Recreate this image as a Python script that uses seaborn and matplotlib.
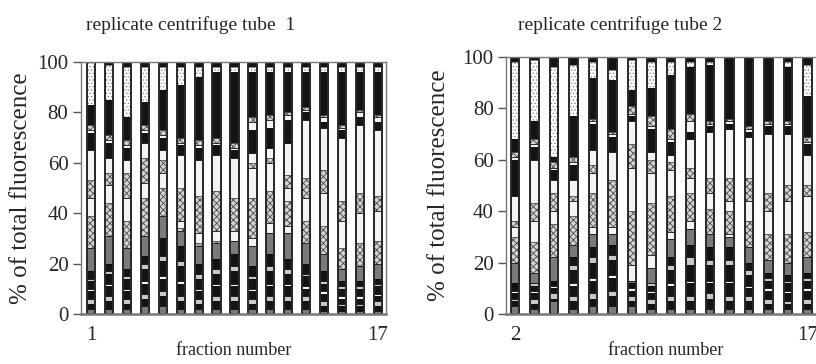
import numpy as np
import matplotlib
matplotlib.use("Agg")
import matplotlib.pyplot as plt
import seaborn as sns

sns.set_style("ticks")
plt.rcParams['font.family'] = ['Liberation Serif', 'DejaVu Serif']
plt.rcParams['hatch.linewidth'] = 0.6

# ---- data: % of total fluorescence per band, stacked bottom -> top ----
tube1_fractions = [str(i) for i in range(1, 18)]
tube2_fractions = [str(i) for i in range(2, 18)]

# style of each stacked layer (bottom -> top)
layer_styles = ['g', 'k', 'lg', 'k', 'w', 'k', 'lg', 'k', 'g', 'x', 'w',
                'x', 'w', 'x', 'w', 'k', 'w', 'x', 'k', 'd', 'k']

# tube 1
t1_base_gray = [2, 2, 2, 3, 3, 2, 2, 2, 2, 2, 2, 2, 2, 1, 1, 1, 1]
t1_dark_a = [2, 3, 2, 3, 4, 3, 2, 3, 3, 2, 3, 3, 3, 2, 2, 2, 2]
t1_light_a = [2, 2, 2, 2, 2, 2, 2, 2, 2, 2, 2, 2, 2, 2, 1, 1, 2]
t1_dark_b = [3, 4, 3, 4, 5, 5, 3, 4, 4, 3, 4, 4, 3, 3, 2, 2, 2]
t1_white_a = [1, 1, 1, 1, 1, 1, 1, 1, 1, 1, 1, 1, 1, 1, 1, 1, 1]
t1_dark_c = [3, 4, 4, 5, 6, 6, 4, 4, 5, 4, 5, 4, 4, 3, 3, 3, 3]
t1_light_b = [1, 1, 1, 2, 2, 2, 2, 2, 2, 1, 2, 2, 1, 1, 1, 1, 1]
t1_dark_d = [3, 3, 3, 3, 7, 6, 4, 4, 5, 4, 5, 4, 4, 4, 2, 2, 2]
t1_mid_gray = [9, 11, 8, 8, 9, 6, 7, 6, 5, 8, 8, 10, 8, 7, 5, 6, 6]
t1_hatch_a = [13, 13, 11, 15, 11, 1, 1, 1, 0, 0, 0, 0, 9, 11, 8, 9, 9]
t1_white_b = [7, 7, 9, 6, 6, 3, 4, 4, 4, 3, 4, 3, 9, 13, 11, 12, 12]
t1_hatch_b = [7, 5, 10, 10, 5, 13, 15, 16, 13, 16, 13, 10, 8, 9, 8, 8, 6]
t1_white_c = [12, 6, 5, 6, 4, 13, 14, 14, 16, 12, 11, 5, 23, 17, 25, 27, 26]
t1_hatch_c = [0, 0, 0, 0, 0, 0, 0, 0, 0, 2, 2, 5, 0, 0, 0, 0, 0]
t1_white_d = [0, 0, 0, 0, 0, 0, 0, 0, 0, 4, 4, 13, 0, 0, 0, 0, 0]
t1_black_a = [7, 6, 5, 4, 5, 4, 5, 4, 3, 9, 8, 9, 3, 2, 3, 3, 3]
t1_white_e = [1, 1, 1, 1, 1, 1, 1, 1, 1, 3, 3, 2, 1, 2, 1, 2, 2]
t1_hatch_d = [2, 2, 2, 2, 2, 2, 2, 2, 2, 2, 2, 1, 1, 1, 1, 1, 1]
t1_black_b = [8, 14, 9, 9, 16, 21, 25, 26, 28, 18, 17, 16, 14, 17, 21, 15, 17]
t1_dotted = [17, 14, 20, 14, 9, 7, 4, 2, 2, 2, 2, 2, 2, 2, 2, 2, 2]
t1_black_cap = [0, 1, 2, 2, 2, 2, 2, 2, 2, 2, 2, 2, 2, 2, 2, 2, 2]

# tube 2
t2_base_gray = [3, 2, 5, 2, 3, 3, 3, 2, 2, 2, 2, 2, 2, 2, 2, 2]
t2_dark_a = [2, 2, 1, 3, 3, 4, 2, 2, 3, 3, 4, 3, 3, 2, 2, 2]
t2_light_a = [1, 2, 2, 2, 2, 2, 2, 2, 2, 2, 2, 2, 2, 2, 1, 2]
t2_dark_b = [2, 2, 2, 4, 5, 5, 2, 2, 4, 5, 4, 5, 3, 3, 3, 3]
t2_white_a = [1, 1, 1, 1, 1, 1, 1, 1, 1, 1, 1, 1, 1, 1, 1, 1]
t2_dark_c = [2, 2, 1, 5, 6, 6, 1, 2, 5, 6, 6, 6, 4, 3, 3, 3]
t2_light_b = [0, 1, 0, 2, 2, 2, 0, 1, 2, 3, 2, 2, 2, 1, 1, 1]
t2_dark_d = [1, 0, 1, 3, 4, 4, 1, 0, 3, 5, 5, 5, 3, 2, 2, 2]
t2_mid_gray = [8, 4, 9, 5, 5, 4, 1, 6, 7, 6, 5, 4, 6, 5, 5, 6]
t2_hatch_a = [10, 12, 13, 11, 0, 0, 0, 0, 0, 0, 0, 0, 0, 10, 11, 10]
t2_white_b = [4, 8, 5, 6, 3, 3, 6, 5, 3, 3, 0, 1, 0, 9, 13, 14]
t2_hatch_b = [2, 7, 7, 2, 13, 18, 21, 20, 14, 11, 10, 9, 10, 7, 6, 4]
t2_white_c = [10, 17, 5, 6, 8, 11, 17, 12, 10, 6, 6, 4, 8, 23, 20, 12]
t2_hatch_c = [0, 0, 0, 0, 3, 0, 9, 5, 3, 4, 6, 9, 9, 0, 0, 0]
t2_white_d = [0, 0, 0, 0, 6, 0, 9, 3, 3, 11, 18, 19, 16, 0, 0, 0]
t2_black_a = [14, 5, 4, 6, 10, 6, 2, 9, 5, 3, 2, 2, 2, 3, 3, 4]
t2_white_e = [1, 1, 1, 1, 1, 1, 1, 1, 1, 4, 1, 1, 1, 1, 1, 1]
t2_hatch_d = [2, 2, 2, 2, 1, 1, 3, 4, 4, 3, 1, 1, 1, 1, 1, 2]
t2_black_b = [5, 7, 2, 16, 16, 20, 6, 11, 21, 18, 22, 23, 25, 23, 21, 16]
t2_dotted = [30, 24, 35, 20, 6, 4, 12, 10, 5, 2, 1, 0, 0, 0, 2, 12]
t2_black_cap = [2, 1, 4, 3, 2, 5, 1, 2, 2, 2, 2, 1, 2, 2, 2, 3]

tube1_layers = [t1_base_gray, t1_dark_a, t1_light_a, t1_dark_b, t1_white_a,
                t1_dark_c, t1_light_b, t1_dark_d, t1_mid_gray, t1_hatch_a,
                t1_white_b, t1_hatch_b, t1_white_c, t1_hatch_c, t1_white_d,
                t1_black_a, t1_white_e, t1_hatch_d, t1_black_b, t1_dotted,
                t1_black_cap]
tube2_layers = [t2_base_gray, t2_dark_a, t2_light_a, t2_dark_b, t2_white_a,
                t2_dark_c, t2_light_b, t2_dark_d, t2_mid_gray, t2_hatch_a,
                t2_white_b, t2_hatch_b, t2_white_c, t2_hatch_c, t2_white_d,
                t2_black_a, t2_white_e, t2_hatch_d, t2_black_b, t2_dotted,
                t2_black_cap]

layer_kw = {
    'k': dict(color='#141414', edgecolor='#000000', linewidth=0.6),
    'g': dict(color='#7a7a7a', edgecolor='#111111', linewidth=0.6),
    'lg': dict(color='#c8c8c8', edgecolor='#111111', linewidth=0.6),
    'w': dict(color='#f4f4f4', edgecolor='#111111', linewidth=0.6),
    'x': dict(color='#d4d4d4', edgecolor='#4a4a4a', linewidth=0.6, hatch='xxxxx'),
    'd': dict(color='#ffffff', edgecolor='#8a8a8a', linewidth=0.6, hatch='.....'),
}


def draw_tube(ax, labels, layers, width):
    stack = np.cumsum(np.array(layers, dtype=float), axis=0)
    # draw cumulative totals from the top layer down so lower layers sit in front
    for i in range(len(layers) - 1, -1, -1):
        sns.barplot(x=labels, y=stack[i], order=labels, width=width,
                    saturation=1, errorbar=None, ax=ax,
                    **layer_kw[layer_styles[i]])
    sns.barplot(x=labels, y=stack[-1], order=labels, width=width,
                errorbar=None, fill=False, color='#2a2a2a', linewidth=1.4, ax=ax)


fig = plt.figure(figsize=(8.16, 3.64), dpi=100)
ax1 = fig.add_axes([81 / 816, 50 / 364, 305 / 816, 252 / 364])
ax2 = fig.add_axes([506 / 816, 50 / 364, 319 / 816, 257 / 364])

draw_tube(ax1, tube1_fractions, tube1_layers, 0.46)
draw_tube(ax2, tube2_fractions, tube2_layers, 0.44)

ax1.set_xlim(-0.56, 16.45)
ax2.set_xlim(-0.46, 15.9)

for ax, labels in [(ax1, tube1_fractions), (ax2, tube2_fractions)]:
    ax.set_ylim(0, 100)
    ax.set_yticks(range(0, 101, 20))
    ax.set_xticks([0, len(labels) - 1])
    ax.set_xticklabels([labels[0], labels[-1]])
    ax.tick_params(axis='x', length=0, pad=9, labelsize=15)
    ax.tick_params(axis='y', length=6, width=1, color='#555555', pad=3, labelsize=15)
    for side in ['left', 'right', 'top']:
        ax.spines[side].set_color('#777777')
        ax.spines[side].set_linewidth(1)
    ax.spines['bottom'].set_color('#777777')
    ax.spines['bottom'].set_linewidth(1.8)
    ax.set_xlabel('fraction number', fontsize=13)
    ax.set_ylabel('% of total fluorescence', fontsize=18)
    ax.xaxis.label.set_va('center')
    ax.xaxis.set_label_coords(0.5, -0.143)

ax1.yaxis.set_label_coords(-0.16, 0.5)
ax2.yaxis.set_label_coords(-0.175, 0.5)

fig.text(191 / 816, 1 - 25 / 364, 'replicate centrifuge tube  1',
         ha='center', va='center', fontsize=14)
fig.text(620 / 816, 1 - 25 / 364, 'replicate centrifuge tube 2',
         ha='center', va='center', fontsize=14)

fig.savefig('out.png', dpi=100)
